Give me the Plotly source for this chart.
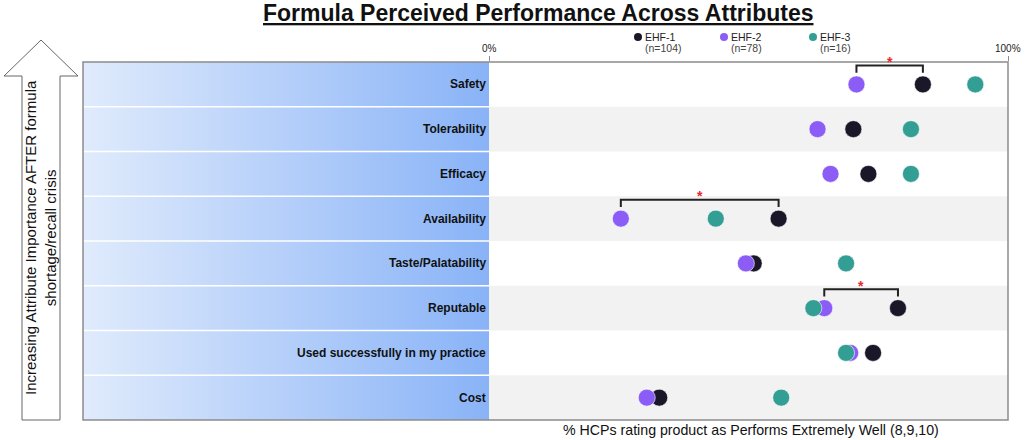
import plotly.graph_objects as go

W, H = 1026, 440

attributes = ["Safety", "Tolerability", "Efficacy", "Availability",
              "Taste/Palatability", "Reputable",
              "Used successfully in my practice", "Cost"]
ehf1 = [83.6, 70.2, 73.1, 55.8, 51.0, 78.8, 74.0, 32.8]
ehf2 = [70.8, 63.3, 65.8, 25.4, 49.5, 64.6, 69.6, 30.4]
ehf3 = [93.7, 81.3, 81.3, 43.7, 68.8, 62.5, 68.8, 56.3]
series_names = ["EHF-1", "EHF-2", "EHF-3"]
series_n = ["(n=104)", "(n=78)", "(n=16)"]
tick_vals = [0, 100]
tick_text = ["0%", "100%"]
# significant differences (attribute, series a, series b)
sig_pairs = [("Safety", 0, 1), ("Availability", 0, 1), ("Reputable", 0, 1)]

colors = ["#1a1828", "#8b5cf6", "#329e94"]
values = [ehf1, ehf2, ehf3]
FONT = "Liberation Sans, Arial, sans-serif"


def px(x):
    return x / W


def py(y):
    return 1 - y / H


left, mid, right = 83, 489, 1008
top, bottom = 62, 420
n = len(attributes)
ypos = [n - 1 - i for i in range(n)]

fig = go.Figure()

# gradient for the label panel
fig.add_trace(go.Scatter(
    x=[0, 1, 1, 0, 0], y=[0, 0, 1, 1, 0], xaxis="x2", yaxis="y2",
    mode="lines", line=dict(width=0), fill="toself",
    fillgradient=dict(type="horizontal",
                      colorscale=[[0, "#e0ebfc"], [1, "#89b3f7"]]),
    hoverinfo="skip", showlegend=False))

for name, vals, col in zip(series_names, values, colors):
    fig.add_trace(go.Scatter(
        x=vals, y=ypos, mode="markers", name=name,
        marker=dict(size=17, color=col, line=dict(width=0.6, color="#ffffff")),
        showlegend=False))

shapes = []
# alternating stripes in the data panel
for i in range(n):
    if i % 2 == 1:
        shapes.append(dict(type="rect", xref="x", yref="y", x0=0, x1=100,
                           y0=ypos[i] - 0.5, y1=ypos[i] + 0.5,
                           fillcolor="#f2f2f2", line=dict(width=0), layer="below"))
# white separators in the label panel
for i in range(1, n):
    yy = top + i * (bottom - top) / n
    shapes.append(dict(type="line", xref="paper", yref="paper",
                       x0=px(left), x1=px(mid), y0=py(yy), y1=py(yy),
                       line=dict(color="white", width=1.5)))
# outer frame
shapes.append(dict(type="rect", xref="paper", yref="paper",
                   x0=px(left), x1=px(right), y0=py(bottom), y1=py(top),
                   line=dict(color="#8c8c8c", width=1.5)))

annotations = []
# top tick labels
for tv, tt in zip(tick_vals, tick_text):
    annotations.append(dict(x=tv, y=py(49), xref="x", yref="paper",
                            text=tt, showarrow=False,
                            xanchor="center", yanchor="middle",
                            font=dict(size=10, color="#222222", family=FONT)))

# significance brackets
for attr, a, b in sig_pairs:
    i = attributes.index(attr)
    xa, xb = values[a][i], values[b][i]
    yc = ypos[i]
    shapes.append(dict(type="path", xref="x", yref="y",
                       path=f"M {xb},{yc + 0.26} L {xb},{yc + 0.42} L {xa},{yc + 0.42} L {xa},{yc + 0.26}",
                       line=dict(color="#222222", width=2)))
    annotations.append(dict(x=(xa + xb) / 2, y=yc + 0.5, xref="x", yref="y",
                            text="<b>*</b>", showarrow=False,
                            xanchor="center", yanchor="middle",
                            font=dict(size=14, color="#e8262b", family=FONT)))

# attribute labels
for i, attr in enumerate(attributes):
    annotations.append(dict(x=px(mid - 1), y=ypos[i], xref="paper", yref="y",
                            text=f"<b>{attr}</b>", showarrow=False,
                            xanchor="right", yanchor="middle",
                            font=dict(size=12, color="#111111", family=FONT)))

# legend
leg_x = [638, 724, 813]
for name, nn, col, lx in zip(series_names, series_n, colors, leg_x):
    shapes.append(dict(type="circle", xref="paper", yref="paper",
                       x0=px(lx - 4), x1=px(lx + 4), y0=py(41), y1=py(33),
                       fillcolor=col, line=dict(width=0)))
    annotations.append(dict(x=px(lx + 5), y=py(37), xref="paper", yref="paper",
                            text=name, showarrow=False,
                            xanchor="left", yanchor="middle",
                            font=dict(size=10.5, color="#222222", family=FONT)))
    annotations.append(dict(x=px(lx + 5), y=py(48), xref="paper", yref="paper",
                            text=nn, showarrow=False,
                            xanchor="left", yanchor="middle",
                            font=dict(size=10.5, color="#444444", family=FONT)))

# importance arrow
arrow = [(41, 40), (78, 76), (60, 76), (60, 420), (22, 420), (22, 76), (4, 76)]
path = "M " + " L ".join(f"{px(x)},{py(y)}" for x, y in arrow) + " Z"
shapes.append(dict(type="path", xref="paper", yref="paper", path=path,
                   fillcolor="white", line=dict(color="#666666", width=1)))
annotations.append(dict(x=px(40), y=py(238), xref="paper", yref="paper",
                        text="Increasing Attribute Importance AFTER formula<br>shortage/recall crisis",
                        showarrow=False, textangle=-90,
                        xanchor="center", yanchor="middle",
                        font=dict(size=15, color="#111111", family=FONT)))

# title and axis title
annotations.append(dict(x=px(538), y=py(13), xref="paper", yref="paper",
                        text="<b><u>Formula Perceived Performance Across Attributes</u></b>",
                        showarrow=False, xanchor="center", yanchor="middle",
                        font=dict(size=23, color="#111111", family=FONT)))
annotations.append(dict(x=px(751), y=py(430), xref="paper", yref="paper",
                        text="% HCPs rating product as Performs Extremely Well (8,9,10)",
                        showarrow=False, xanchor="center", yanchor="middle",
                        font=dict(size=14.2, color="#111111", family=FONT)))

fig.update_layout(
    width=W, height=H, margin=dict(l=0, r=0, t=0, b=0),
    paper_bgcolor="white", plot_bgcolor="white",
    xaxis=dict(domain=[px(mid), px(right)], range=[0, 100], side="top",
               tickvals=tick_vals, showticklabels=False, ticks="outside",
               ticklen=5, tickcolor="#8c8c8c", showgrid=False, zeroline=False,
               showline=False),
    yaxis=dict(domain=[py(bottom), py(top)], range=[-0.5, n - 0.5],
               visible=False),
    xaxis2=dict(domain=[px(left), px(mid)], range=[0, 1], visible=False),
    yaxis2=dict(domain=[py(bottom), py(top)], range=[0, 1], visible=False),
    shapes=shapes, annotations=annotations,
)

fig.write_html("out.html", config={"displayModeBar": False},
               post_script="document.body.style.margin='0px';"
                           "document.body.style.overflow='hidden';"
                           "document.documentElement.style.overflow='hidden';")
